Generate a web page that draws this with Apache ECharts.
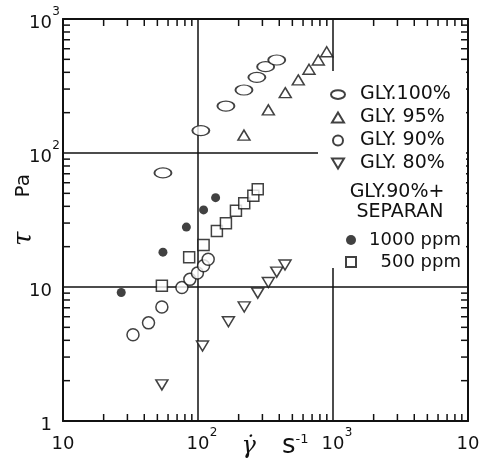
<!DOCTYPE html>
<html>
<head>
<meta charset="utf-8">
<script src="https://cdn.jsdelivr.net/npm/echarts@6/dist/echarts.min.js"></script>
<style>
  html, body { margin: 0; padding: 0; background: #fff; }
  #chart { width: 479px; height: 462px; }
</style>
</head>
<body>
<div id="chart"></div>
<script>
// Shear stress (Pa) against shear rate (s^-1) for glycerol solutions
const gly100X = [55, 105, 161, 219, 273, 317, 383];
const gly100Y = [71, 147, 224, 295, 367, 441, 494];

const gly95X = [219, 332, 443, 553, 664, 778, 898];
const gly95Y = [136, 210, 282, 351, 422, 494, 570];

const gly90X = [33, 43, 54, 76, 87, 99, 110, 119];
const gly90Y = [4.4, 5.4, 7.1, 9.9, 11.4, 12.7, 14.4, 16.1];

const gly80X = [54, 108, 168, 220, 277, 332, 383, 441];
const gly80Y = [1.86, 3.63, 5.5, 7.1, 9.0, 10.8, 12.9, 14.6];

const sep1000X = [27, 55, 82, 110, 135];
const sep1000Y = [9.1, 18.2, 28, 37.6, 46.4];

const sep500X = [54, 86, 110, 138, 161, 191, 220, 257, 277];
const sep500Y = [10.2, 16.7, 20.6, 26.2, 29.9, 37.1, 42.1, 48, 53.6];

// minor tick positions on the log axes
const xMinorTicks = [20, 30, 40, 50, 60, 70, 80, 90,
                     200, 300, 400, 500, 600, 700, 800, 900,
                     2000, 3000, 4000, 5000, 6000, 7000, 8000, 9000];
const yMinorTicks = [2, 3, 4, 5, 6, 7, 8, 9,
                     20, 30, 40, 50, 60, 70, 80, 90,
                     200, 300, 400, 500, 600, 700, 800, 900];

const X_MIN = 10, X_MAX = 10000, Y_MIN = 1, Y_MAX = 1000;

const FONT = 'DejaVu Sans';
const INK = '#111';
const TICK_LEN = 7;

const pairs = (xs, ys) => xs.map((x, i) => [x, ys[i]]);

const ICON_ELLIPSE = 'path://M0,5a8,5 0 1,0 16,0a8,5 0 1,0 -16,0z';
const ICON_UP = 'path://M6,0L12,10L0,10Z';
const ICON_DOWN = 'path://M0,0L12,0L6,10Z';
const ICON_SQUARE = 'path://M0,0L10,0L10,10L0,10Z';

const hollow = { color: '#fff', borderColor: INK, borderWidth: 1.5 };

const supLabel = {
  b: { fontFamily: FONT, fontSize: 18, color: INK, lineHeight: 26, verticalAlign: 'bottom' },
  s: { fontFamily: FONT, fontSize: 12, color: INK, lineHeight: 14, verticalAlign: 'top', width: 8 },
  e: { fontFamily: FONT, fontSize: 12, color: INK, lineHeight: 14, verticalAlign: 'top', width: 8 }
};

function expOf(v) { return Math.round(Math.log10(v)); }

function axisBase(isX, pos) {
  return {
    type: 'log',
    position: pos,
    min: isX ? X_MIN : Y_MIN,
    max: isX ? X_MAX : Y_MAX,
    axisLine: { show: true, onZero: false, lineStyle: { color: INK, width: 2 } },
    axisTick: { show: false },
    minorTick: { show: false },
    splitLine: { show: false },
    axisLabel: { show: false }
  };
}

// hidden axis that only carries the decade grid lines
function decadeGrid(isX) {
  return {
    type: 'log',
    position: isX ? 'bottom' : 'left',
    min: isX ? X_MIN : Y_MIN,
    max: isX ? X_MAX : Y_MAX,
    axisLine: { show: false },
    axisTick: { show: false },
    axisLabel: { show: false },
    splitLine: { show: true, lineStyle: { color: INK, width: 1.5 } }
  };
}

const xBottom = axisBase(true, 'bottom');
xBottom.axisLabel = {
  show: true,
  margin: 6,
  formatter: v => {
    const e = expOf(v);
    return e === 1 ? '{b|10}' : '{e| }{b|10}{s|' + e + '}';
  },
  rich: supLabel
};
xBottom.name = '{g|γ̇}{s|s}{u|-1}';
xBottom.nameLocation = 'middle';
xBottom.nameGap = 12;
xBottom.nameMoveOverlap = false;
xBottom.nameTextStyle = {
  padding: [0, 0, 0, 19],
  rich: {
    g: { fontFamily: 'DejaVu Serif', fontStyle: 'italic', fontSize: 24, color: INK, lineHeight: 26, verticalAlign: 'bottom' },
    s: { fontFamily: FONT, fontSize: 26, color: INK, lineHeight: 26, verticalAlign: 'bottom', padding: [0, 0, 0, 26] },
    u: { fontFamily: FONT, fontSize: 13, color: INK, lineHeight: 14, verticalAlign: 'top' }
  }
};

const xTop = axisBase(true, 'top');

const yLeft = axisBase(false, 'left');
yLeft.axisLabel = {
  show: true,
  margin: 3,
  align: 'right',
  formatter: v => {
    const e = expOf(v);
    if (e === 0) return '{b|1}{e| }';
    if (e === 1) return '{b|10}{e| }';
    return '{b|10}{s|' + e + '}';
  },
  rich: supLabel
};
yLeft.name = '{t|τ}{p|Pa}';
yLeft.nameLocation = 'middle';
yLeft.nameRotate = 90;
yLeft.nameGap = 26;
yLeft.nameMoveOverlap = false;
yLeft.nameTextStyle = {
  padding: [0, 0, 0, 20],
  rich: {
    t: { fontFamily: 'DejaVu Serif', fontStyle: 'italic', fontSize: 26, color: INK },
    p: { fontFamily: FONT, fontSize: 20, color: INK, padding: [0, 0, 0, 34] }
  }
};

const yRight = axisBase(false, 'right');

const tickStroke = { stroke: INK, lineWidth: 1.5 };

// inward minor ticks on the bottom and top edges
function renderXTicks(params, api) {
  const v = api.value(0);
  const b = api.coord([v, Y_MIN]);
  const t = api.coord([v, Y_MAX]);
  return {
    type: 'group',
    children: [
      { type: 'line', shape: { x1: b[0], y1: b[1], x2: b[0], y2: b[1] - TICK_LEN }, style: tickStroke },
      { type: 'line', shape: { x1: t[0], y1: t[1], x2: t[0], y2: t[1] + TICK_LEN }, style: tickStroke }
    ]
  };
}

// inward minor ticks on the left and right edges
function renderYTicks(params, api) {
  const v = api.value(1);
  const l = api.coord([X_MIN, v]);
  const r = api.coord([X_MAX, v]);
  return {
    type: 'group',
    children: [
      { type: 'line', shape: { x1: l[0], y1: l[1], x2: l[0] + TICK_LEN, y2: l[1] }, style: tickStroke },
      { type: 'line', shape: { x1: r[0], y1: r[1], x2: r[0] - TICK_LEN, y2: r[1] }, style: tickStroke }
    ]
  };
}

const chart = echarts.init(document.getElementById('chart'), null, { renderer: 'canvas' });

chart.setOption({
  backgroundColor: '#fff',
  animation: false,
  grid: { left: 63, right: 11, top: 19, bottom: 41, outerBoundsMode: 'none' },
  xAxis: [decadeGrid(true), xBottom, xTop],
  yAxis: [decadeGrid(false), yLeft, yRight],
  legend: [
    {
      orient: 'vertical',
      left: 325,
      top: 80,
      itemWidth: 14,
      itemHeight: 10,
      itemGap: 4,
      symbolKeepAspect: true,
      selectedMode: false,
      data: [
        { name: 'GLY.100%', icon: ICON_ELLIPSE },
        { name: 'GLY. 95%', icon: ICON_UP },
        { name: 'GLY. 90%', icon: 'circle' },
        { name: 'GLY. 80%', icon: ICON_DOWN }
      ],
      formatter: n => '{t|' + n + '}',
      textStyle: {
        rich: { t: { fontFamily: FONT, fontSize: 19, color: INK, lineHeight: 20, padding: [0, 0, 0, 10] } }
      }
    },
    {
      orient: 'vertical',
      left: 340,
      top: 226,
      itemWidth: 10,
      itemHeight: 10,
      itemGap: 4,
      symbolKeepAspect: true,
      selectedMode: false,
      data: [
        { name: '1000 ppm', icon: 'circle' },
        { name: '500 ppm', icon: ICON_SQUARE }
      ],
      formatter: n => '{t|' + n + '}',
      textStyle: {
        rich: { t: { fontFamily: FONT, fontSize: 18, color: INK, lineHeight: 20, width: 100, align: 'right' } }
      }
    }
  ],
  graphic: [
    // white panel behind the key, interrupting the decade grid lines
    { type: 'rect', z: 1, silent: true, shape: { x: 318, y: 71, width: 148, height: 197 }, style: { fill: '#fff' } },
    { type: 'text', z: 10, x: 397, y: 192, style: { text: 'GLY.90%+', fontFamily: FONT, fontSize: 19, fill: INK, align: 'center', verticalAlign: 'middle' } },
    { type: 'text', z: 10, x: 400, y: 212, style: { text: 'SEPARAN', fontFamily: FONT, fontSize: 19, fill: INK, align: 'center', verticalAlign: 'middle' } }
  ],
  series: [
    {
      type: 'custom', z: 0, silent: true, clip: false,
      data: xMinorTicks.map(v => [v, Y_MIN]),
      renderItem: renderXTicks
    },
    {
      type: 'custom', z: 0, silent: true, clip: false,
      data: yMinorTicks.map(v => [X_MIN, v]),
      renderItem: renderYTicks
    },
    {
      name: 'GLY.100%', type: 'scatter', data: pairs(gly100X, gly100Y),
      symbol: ICON_ELLIPSE, symbolSize: [17, 10], itemStyle: hollow
    },
    {
      name: 'GLY. 95%', type: 'scatter', data: pairs(gly95X, gly95Y),
      symbol: 'triangle', symbolSize: [12, 10], itemStyle: hollow
    },
    {
      name: 'GLY. 90%', type: 'scatter', data: pairs(gly90X, gly90Y),
      symbol: 'circle', symbolSize: 12, itemStyle: hollow
    },
    {
      name: 'GLY. 80%', type: 'scatter', data: pairs(gly80X, gly80Y),
      symbol: 'triangle', symbolRotate: 180, symbolSize: [12, 10], itemStyle: hollow
    },
    {
      name: '1000 ppm', type: 'scatter', data: pairs(sep1000X, sep1000Y),
      symbol: 'circle', symbolSize: 9, itemStyle: { color: INK, borderColor: INK, borderWidth: 0 }
    },
    {
      name: '500 ppm', type: 'scatter', data: pairs(sep500X, sep500Y),
      symbol: 'rect', symbolSize: 11, itemStyle: hollow
    }
  ]
});
</script>
</body>
</html>
